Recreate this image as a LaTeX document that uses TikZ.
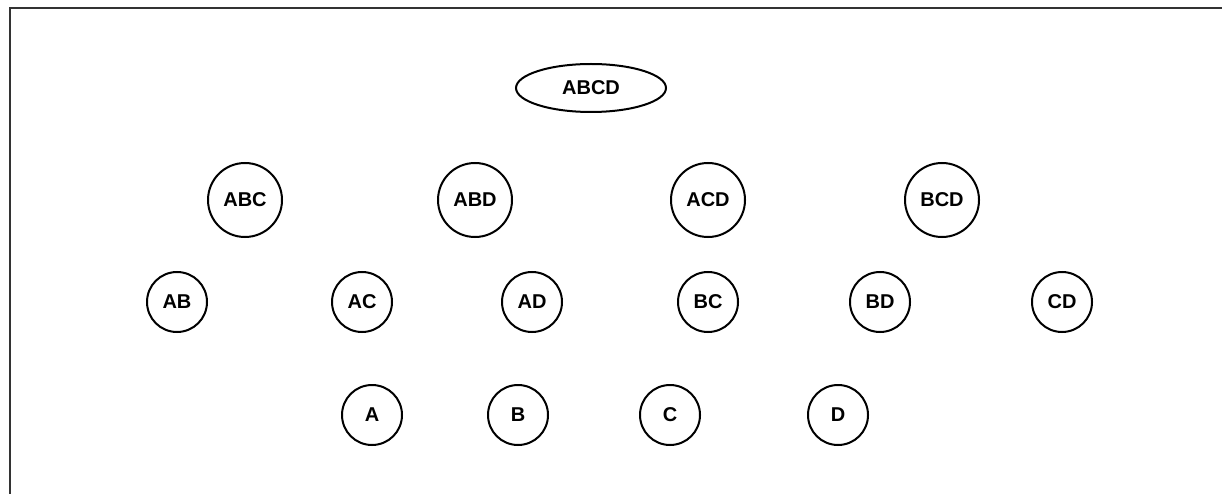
\documentclass[tikz,border=0pt]{standalone}
\usepackage{fontspec}
\setmainfont{Liberation Sans}
\usetikzlibrary{shapes.geometric}
\begin{document}
\begin{tikzpicture}[x=1pt,y=-1pt,
  lbl/.style={font=\fontsize{20}{23}\selectfont\bfseries, line width=2pt, draw=black, inner sep=0pt},
  big/.style={lbl, circle, minimum size=74pt},
  mid/.style={lbl, circle, minimum size=60pt},
  small/.style={lbl, circle, minimum size=60pt},
  oval/.style={lbl, ellipse, minimum width=150pt, minimum height=48pt},
  frame/.style={line width=1.5pt, draw=black!80}]
\useasboundingbox (0,0) rectangle (1222,494);
\coordinate (fb) at (10,494);
\coordinate (fc) at (10,8);
\coordinate (fr) at (1222,8);
\draw[frame] (fb) -- (fc) -- (fr);
\node[oval] (abcd) at (591,88) {ABCD};
\node[big] (abc) at (245,200) {ABC};
\node[big] (abd) at (475,200) {ABD};
\node[big] (acd) at (708,200) {ACD};
\node[big] (bcd) at (942,200) {BCD};
\node[mid] (ab) at (177,302) {AB};
\node[mid] (ac) at (362,302) {AC};
\node[mid] (ad) at (532,302) {AD};
\node[mid] (bc) at (708,302) {BC};
\node[mid] (bd) at (880,302) {BD};
\node[mid] (cd) at (1062,302) {CD};
\node[small] (a) at (372,415) {A};
\node[small] (b) at (518,415) {B};
\node[small] (c) at (670,415) {C};
\node[small] (d) at (838,415) {D};
\end{tikzpicture}
\end{document}
